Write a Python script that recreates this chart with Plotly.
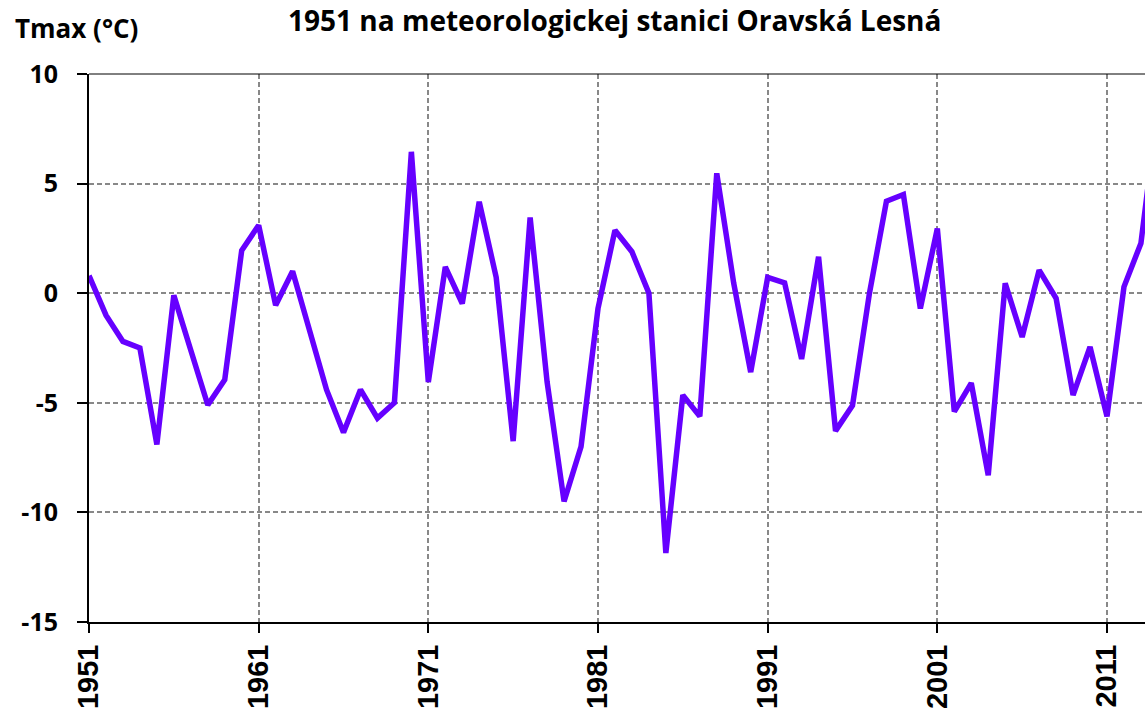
import plotly.graph_objects as go

years = list(range(1951, 2015))
tmax = [0.8, -1.0, -2.2, -2.5, -6.9, -0.1, -2.6, -5.1, -3.95, 1.95,
        3.1, -0.55, 1.0, -1.7, -4.4, -6.35, -4.4, -5.7, -5.0, 6.45,
        -4.05, 1.2, -0.47, 4.17, 0.72, -6.75, 3.45, -4.05, -9.5, -7.0,
        -0.7, 2.87, 1.89, 0.0, -11.85, -4.65, -5.62, 5.47, 0.45, -3.6,
        0.72, 0.47, -3.0, 1.66, -6.28, -5.12, 0.0, 4.2, 4.5, -0.7,
        2.95, -5.4, -4.1, -8.3, 0.45, -2.0, 1.05, -0.23, -4.65, -2.45,
        -5.62, 0.29, 2.28, 8.5]

x_ticks = [1951, 1961, 1971, 1981, 1991, 2001, 2011]
y_ticks = [10, 5, 0, -5, -10, -15]

title_text = "1951 na meteorologickej stanici Oravská Lesná"
y_title = "Tmax (°C)"

fig = go.Figure()
fig.add_trace(go.Scatter(x=years, y=tmax, mode="lines",
                         line=dict(color="#6600FF", width=5.5), showlegend=False))

fig.update_layout(
    width=1145, height=708,
    margin=dict(l=89, r=0, t=74, b=86),
    paper_bgcolor="white", plot_bgcolor="white",
    font=dict(family="Open Sans", color="black"),
)
fig.update_xaxes(
    range=[1951, 2013.24], tickvals=x_ticks, ticktext=[str(v) for v in x_ticks],
    tickangle=-90,
    tickfont=dict(family="Liberation Sans", size=29, color="black", weight="bold"),
    ticks="outside", ticklen=9, tickwidth=2, tickcolor="black",
    showline=True, linecolor="black", linewidth=2,
    showgrid=True, gridcolor="#888888", gridwidth=1.5, griddash="5px,3px",
    zeroline=False,
)
fig.update_yaxes(
    range=[-15, 10], tickvals=y_ticks, ticktext=[str(v) for v in y_ticks],
    tickfont=dict(family="Open Sans", size=25, color="black", weight="bold"),
    ticks="outside", ticklen=10, tickwidth=2, tickcolor="black",
    showline=True, linecolor="black", linewidth=2,
    showgrid=True, gridcolor="#888888", gridwidth=1.5, griddash="5px,3px",
    zeroline=False, ticklabelstandoff=14,
)

fig.add_shape(type="line", xref="paper", yref="paper", x0=0, x1=1, y0=1, y1=1,
              line=dict(color="black", width=1))

fig.add_annotation(text=title_text, xref="paper", yref="paper", x=0.5, y=1,
                   xshift=-3, yshift=74, xanchor="center", yanchor="top", showarrow=False,
                   borderpad=0,
                   font=dict(family="Open Sans", size=28, color="black", weight="bold"))
fig.add_annotation(text=y_title, xref="paper", yref="paper", x=-89/1056, y=1,
                   xshift=13, yshift=46, xanchor="left", yanchor="middle", showarrow=False,
                   font=dict(family="Open Sans", size=26, color="black", weight="bold"))

fig.write_html(
    "out.html",
    config={"displayModeBar": False},
    post_script="document.body.style.margin='0';document.body.style.overflow='hidden';",
)
